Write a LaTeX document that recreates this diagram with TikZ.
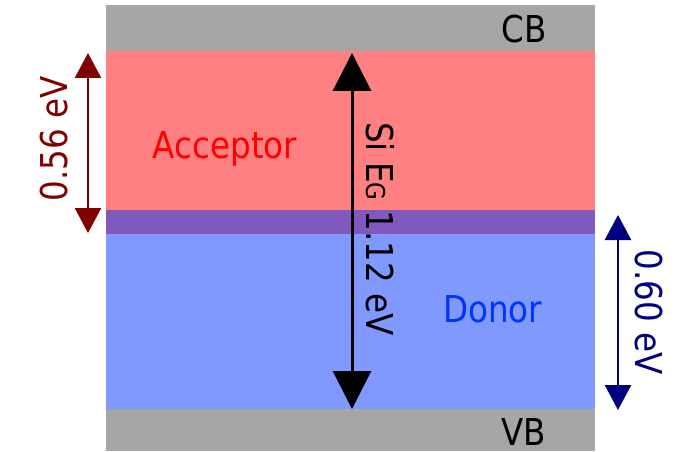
\documentclass[tikz,border=0pt]{standalone}
\usepackage{fontspec}
\setmainfont{DejaVu Sans}[FakeStretch=0.88]
\usetikzlibrary{arrows.meta}
\definecolor{bandgray}{RGB}{166,166,166}
\definecolor{accfill}{RGB}{255,128,128}
\definecolor{donfill}{RGB}{128,153,255}
\definecolor{midfill}{RGB}{128,89,191}
\definecolor{acctext}{RGB}{255,0,0}
\definecolor{dontext}{RGB}{0,51,255}
\definecolor{darkred}{RGB}{128,0,0}
\definecolor{darkblue}{RGB}{0,0,128}
\tikzset{
  band/.style={inner sep=0pt, outer sep=0pt, minimum width=489pt, draw=none},
  lbl/.style={inner sep=0pt, font=\fontsize{37}{44}\selectfont},
  sidearrow/.style={line width=2.5pt, {Triangle[length=25pt,width=26pt]}-{Triangle[length=25pt,width=26pt]}},
  gaparrow/.style={line width=3pt, {Triangle[length=38pt,width=38pt]}-{Triangle[length=38pt,width=38pt]}}
}
\begin{document}
\begin{tikzpicture}[x=1pt,y=-1pt]
\useasboundingbox (0,0) rectangle (689,452);
% bands
\node[band, fill=bandgray, minimum height=46pt] (cb) at (350.5,28) {};
\node[band, fill=accfill, minimum height=159pt] (acc) at (350.5,130.5) {};
\node[band, fill=midfill, minimum height=24pt] (mid) at (350.5,222) {};
\node[band, fill=donfill, minimum height=175pt] (don) at (350.5,321.5) {};
\node[band, fill=bandgray, minimum height=42pt] (vb) at (350.5,430) {};
% labels
\node[lbl, anchor=base] (cbl) at (524.5,43) {CB};
\node[lbl, anchor=base] (vbl) at (524,445) {VB};
\node[lbl, anchor=base, text=acctext] (accl) at (225,158) {Acceptor};
\node[lbl, anchor=base, text=dontext] (donl) at (492.5,322) {Donor};
% arrow end points
\coordinate (la) at (88,53);
\coordinate (lb) at (88,233);
\coordinate (ma) at (352,53);
\coordinate (mb) at (352,409);
\coordinate (ra) at (618,215);
\coordinate (rb) at (618,410);
\draw[sidearrow, darkred] (la) -- (lb);
\draw[gaparrow, black] (ma) -- (mb);
\draw[sidearrow, darkblue] (ra) -- (rb);
% rotated labels
\node[lbl, anchor=base, rotate=90, text=darkred] (l56) at (67,139) {0.56 eV};
\node[lbl, anchor=base, rotate=-90, text=black] (lgap) at (366.5,229) {Si E{\fontsize{26}{30}\selectfont G} 1.12 eV};
\node[lbl, anchor=base, rotate=-90, text=darkblue] (l60) at (635,312.5) {0.60 eV};
\end{tikzpicture}
\end{document}
